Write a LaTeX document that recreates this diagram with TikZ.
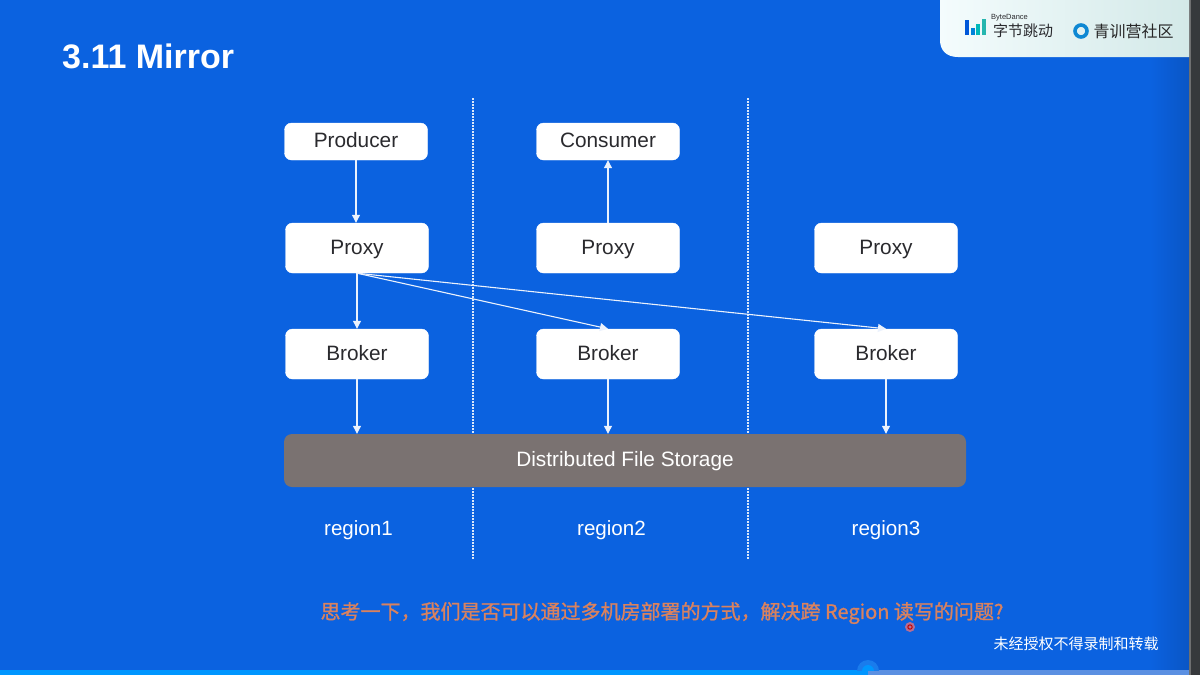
\documentclass[tikz,border=0pt]{standalone}
\usepackage{fontspec}
\setmainfont{Liberation Sans}
\newfontfamily\cjk{Noto Sans CJK SC}
\newfontfamily\cjkmedium[FakeBold=1.2]{Noto Sans CJK SC}
\usetikzlibrary{arrows.meta,calc}
\definecolor{slidebg}{HTML}{0B62E0}
\definecolor{slideedge}{HTML}{0A55C4}
\definecolor{framegray}{HTML}{36393C}
\definecolor{frameline}{HTML}{6E6F70}
\definecolor{boxtext}{HTML}{2A2A2E}
\definecolor{storage}{HTML}{7A7271}
\definecolor{asktext}{HTML}{D9825F}
\definecolor{badgeA}{HTML}{F4FCFD}
\definecolor{badgeB}{HTML}{D3E9E8}
\definecolor{played}{HTML}{0096FF}
\definecolor{unplayed}{HTML}{5B90E2}
\definecolor{halo}{HTML}{1A7CEC}
\tikzset{
  x=1pt,y=-1pt,
  labelfont/.style={font=\fontsize{20.8}{24}\selectfont,text height=12pt,text depth=0pt},
  whitebox/.style={draw=white,fill=white,rounded corners=7pt,minimum width=143pt,inner sep=0pt,
    text=boxtext,labelfont},
  smallbox/.style={whitebox,minimum height=37pt},
  tallbox/.style={whitebox,minimum height=50pt},
  flow/.style={draw=white!92!slidebg,line width=1.1pt,-{Triangle[length=8pt,width=8pt]}},
  divider/.style={draw=white!85!slidebg,line width=1.2pt,dash pattern=on 1.5pt off 1.5pt},
  caption/.style={text=white,font=\fontsize{20.6}{24}\selectfont,inner sep=0pt},
}
\begin{document}
\begin{tikzpicture}
\useasboundingbox (0,0) rectangle (1200,675);
% slide background, shaded toward the right edge
\fill[slidebg] (0,0) rectangle (1150,675);
\shade[left color=slidebg,right color=slideedge] (1150,0) rectangle (1190,675);
% progress bar of the player
\fill[unplayed] (868,670) rectangle (1190,675);
\fill[played] (0,670) rectangle (868,675);
\begin{scope}
  \clip (840,650) rectangle (900,670);
  \fill[halo] (868,671) circle (11pt);
  \fill[played] (868,671) circle (6pt);
\end{scope}
% window frame at the right
\fill[framegray] (1190,0) rectangle (1200,675);
\fill[frameline] (1189,0) rectangle (1191,675);

% brand badge
\shade[left color=badgeA,right color=badgeB]
  (940,0) -- (1189,0) -- (1189,57) -- (958,57) .. controls (946,57) and (940,50) .. (940,40) -- cycle;
\fill[blue!60!cyan!85!black] (965,20) rectangle (969,35);
\fill[blue!40!cyan!85!black] (971,28) rectangle (974.5,35);
\fill[teal!55!cyan] (976,24) rectangle (980,35);
\fill[cyan!55!green!85!white] (982,19) rectangle (986,35);
\node[text=boxtext,font=\fontsize{7.5}{8}\selectfont,inner sep=0pt] (bytelabel) at (1009.5,18) {ByteDance};
\node[text=boxtext,font=\cjk\fontsize{15}{16}\selectfont,inner sep=0pt] (bytename) at (1023,31) {字节跳动};
\draw[cyan!70!blue,line width=3.6pt] (1081,31) circle (6pt);
\node[text=black!85,font=\cjk\fontsize{16}{17}\selectfont,inner sep=0pt] (community) at (1133.5,31) {青训营社区};

% title
\node[text=white,font=\bfseries\fontsize{34}{38}\selectfont,anchor=west,inner sep=0pt] (title) at (62,56) {3.11 Mirror};

% region dividers
\coordinate (d1top) at (473,98);
\coordinate (d1bot) at (473,560);
\coordinate (d2top) at (748,98);
\coordinate (d2bot) at (748,560);
\draw[divider] (d1top) -- (d1bot);
\draw[divider] (d2top) -- (d2bot);

% components
\node[smallbox] (producer) at (356,141.5) {Producer};
\node[smallbox] (consumer) at (608,141.5) {Consumer};
\node[tallbox] (proxyA) at (357,248) {Proxy};
\node[tallbox] (proxyB) at (608,248) {Proxy};
\node[tallbox] (proxyC) at (886,248) {Proxy};
\node[tallbox] (brokerA) at (357,354) {Broker};
\node[tallbox] (brokerB) at (608,354) {Broker};
\node[tallbox] (brokerC) at (886,354) {Broker};
\node[draw=none,fill=storage,rounded corners=8pt,minimum width=682pt,minimum height=53pt,inner sep=0pt,
  text=white,labelfont] (storage) at (625,460.5) {Distributed File Storage};

% message paths
\draw[flow] (producer.south) -- (producer.south |- proxyA.north);
\draw[flow] (proxyB.north) -- (consumer.south);
\draw[flow] (proxyA.south) -- (brokerA.north);
\draw[flow] (proxyA.south) -- (brokerB.north);
\draw[flow] (proxyA.south) -- (brokerC.north);
\draw[flow] (brokerA.south) -- (brokerA.south |- storage.north);
\draw[flow] (brokerB.south) -- (brokerB.south |- storage.north);
\draw[flow] (brokerC.south) -- (brokerC.south |- storage.north);

% region names
\node[caption] (r1) at (358.5,530) {region1};
\node[caption] (r2) at (611.5,530) {region2};
\node[caption] (r3) at (886,530) {region3};

% question and notice
\node[text=asktext,font=\cjkmedium\fontsize{20}{24}\selectfont,inner sep=0pt] (ask) at (662,613)
  {思考一下，我们是否可以通过多机房部署的方式，解决跨 Region 读写的问题?};
\node[text=white,font=\cjk\fontsize{15}{18}\selectfont,inner sep=0pt] (notice) at (1076,644) {未经授权不得录制和转载};

% pointer marker
\fill[red!55!white,opacity=.7] (910,627) circle (5pt);
\draw[red!75!black,line width=1pt] (910,627) circle (2.2pt);
\end{tikzpicture}
\end{document}
